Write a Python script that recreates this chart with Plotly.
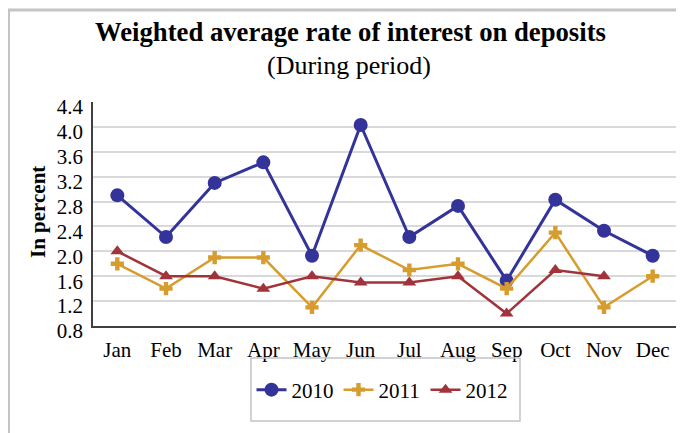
import plotly.graph_objects as go

months = ["Jan", "Feb", "Mar", "Apr", "May", "Jun", "Jul", "Aug", "Sep", "Oct", "Nov", "Dec"]
rate_2010 = [2.9, 2.23, 3.1, 3.43, 1.93, 4.03, 2.23, 2.73, 1.53, 2.83, 2.33, 1.93]
rate_2011 = [1.8, 1.4, 1.9, 1.9, 1.1, 2.1, 1.7, 1.8, 1.4, 2.3, 1.1, 1.6]
rate_2012 = [2.0, 1.6, 1.6, 1.4, 1.6, 1.5, 1.5, 1.6, 1.0, 1.7, 1.6, None]
y_ticks = [0.8, 1.2, 1.6, 2.0, 2.4, 2.8, 3.2, 3.6, 4.0, 4.4]

# page body has an 8px margin: convert window pixels to figure pixels
OFF = 8
W, H = 684, 433
PL, PR, PT, PB = 93, 677, 102, 326  # plot box in window pixels
L, R, T, B = PL - OFF, W - (PR - OFF), PT - OFF, H - (PB - OFF)
PW, PH = W - L - R, H - T - B

def px(x):
    return (x - OFF - L) / PW

def py(y):
    return (H - B - (y - OFF)) / PH

FONT = "Liberation Serif"

fig = go.Figure()
fig.add_trace(go.Scatter(x=months, y=rate_2010, name="2010", mode="lines+markers",
                         line=dict(color="#333399", width=3),
                         marker=dict(symbol="circle", size=14, color="#333399")))
fig.add_trace(go.Scatter(x=months, y=rate_2011, name="2011", mode="lines+markers",
                         line=dict(color="#D69D2E", width=2.5),
                         marker=dict(symbol="cross", size=11, color="#D69D2E")))
fig.add_trace(go.Scatter(x=months, y=rate_2012, name="2012", mode="lines+markers",
                         line=dict(color="#A0343A", width=2.5),
                         marker=dict(symbol="triangle-up", size=12, color="#A0343A")))

fig.update_layout(
    width=W, height=H,
    margin=dict(l=L, r=R, t=T, b=B),
    paper_bgcolor="white", plot_bgcolor="white",
    font=dict(family=FONT, color="black", size=21),
    showlegend=True,
    legend=dict(orientation="h", x=px(382), xanchor="center", y=py(390), yanchor="middle",
                font=dict(size=21, family=FONT), bgcolor="rgba(0,0,0,0)", borderwidth=0,
                entrywidth=42),
    xaxis=dict(type="category", range=[-0.5, 11.5], showgrid=False, showline=True,
               linecolor="#404040", linewidth=1.5, ticks="", tickfont=dict(size=21),
               ticklabelstandoff=4, fixedrange=True),
    yaxis=dict(range=[0.8, 4.4], tickvals=y_ticks, ticktext=[f"{v:.1f}" for v in y_ticks],
               showgrid=True, gridcolor="#d9d9d9", gridwidth=2, showline=True,
               linecolor="#404040", linewidth=1.5, ticks="", tickfont=dict(size=21),
               ticklabelstandoff=4, ticklabelshift=5,
               zeroline=False, fixedrange=True),
    shapes=[
        dict(type="rect", xref="paper", yref="paper", x0=px(8.5), x1=px(730), y0=py(10), y1=py(480),
             line=dict(color="#c4c4c4", width=3), layer="below"),
        dict(type="rect", xref="paper", yref="paper", x0=px(251), x1=px(520), y0=py(358), y1=py(421),
             line=dict(color="#c4c4c4", width=1.5)),
    ],
    annotations=[
        dict(text="<b>Weighted average rate of interest on deposits</b>", xref="paper", yref="paper",
             x=px(350), y=py(32), xanchor="center", yanchor="middle", showarrow=False,
             font=dict(size=26.7, family=FONT)),
        dict(text="(During period)", xref="paper", yref="paper",
             x=px(349), y=py(66), xanchor="center", yanchor="middle", showarrow=False,
             font=dict(size=26, family=FONT)),
        dict(text="<b>In percent</b>", xref="paper", yref="paper", textangle=-90,
             x=px(38), y=py(212), xanchor="center", yanchor="middle", showarrow=False,
             font=dict(size=21, family=FONT)),
        dict(text="<b>Chart 2.39</b>", xref="paper", yref="paper",
             x=px(5), y=py(-4), xanchor="left", yanchor="middle", showarrow=False,
             font=dict(size=20, family=FONT)),
    ],
)

fig.write_html("out.html")
